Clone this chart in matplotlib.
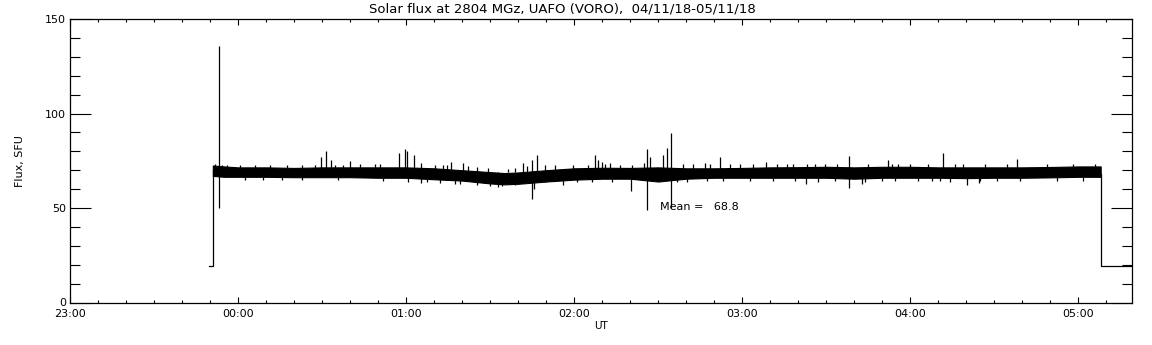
import matplotlib
matplotlib.use("Agg")
import matplotlib.pyplot as plt
from matplotlib.ticker import MultipleLocator, FuncFormatter

# time axis: minutes after 23:00 UT
x_max = 379

# noise band envelope of the flux record (SFU)
band_min = [51, 55, 60, 70, 80, 90, 100, 110, 120, 130, 140, 150, 155, 160,
            170, 180, 190, 200, 210, 220, 230, 240, 250, 260, 270, 280, 290,
            300, 310, 320, 330, 340, 350, 360, 368]
band_hi = [72.5, 72, 71.5, 71.5, 71.2, 71.5, 71.5, 71.5, 71.5, 71, 70, 69, 68.5, 68.8,
           70, 71, 71.3, 71.2, 71.5, 71, 71, 71.2, 71.5, 71.6, 71.8, 71.5, 71.8,
           71.8, 71.5, 71.5, 71.5, 71.5, 71.7, 72, 72]
band_lo = [67, 66.5, 66.5, 66.5, 66.3, 66.3, 66.3, 66, 66, 65.2, 64.5, 63, 62.5, 62.8,
           64, 65, 65.5, 65.5, 64, 65.5, 66, 66, 66, 66, 66, 65.5, 66,
           66, 66, 65.8, 66, 66, 66.2, 66.5, 66.5]

# bursts / spikes sticking out of the band
spike_min = [53.2, 89.6, 91.4, 93.2, 100.0, 117.5, 119.6, 120.4, 122.9, 125.4,
             136.1, 140.4, 161.8, 165.0, 166.8, 187.5, 188.6, 190.0, 192.9, 205.0,
             206.1, 207.1, 211.8, 213.2, 214.6, 226.8, 232.1, 248.6, 278.2, 292.1,
             311.8, 338.2,
             125.4, 137.5, 152.9, 165.0, 165.7, 176.1, 200.4, 206.1, 214.6, 262.9,
             278.2, 282.9, 320.1, 324.6]
spike_lo = [50, 69, 69, 69, 69, 69, 69, 69, 69, 69,
            69, 69, 69, 69, 69, 69, 69, 69, 69, 69,
            69, 69, 69, 69, 69, 69, 69, 69, 69, 69,
            69, 69,
            63, 62.5, 61, 55, 60, 62, 59, 49, 50, 62.5,
            60.4, 62.5, 62, 63]
spike_hi = [135.5, 77, 80, 75.3, 74.7, 79, 81, 80, 78, 73.7,
            74.2, 73.7, 73.7, 75.3, 78, 78, 75.3, 74.2, 74, 74,
            81, 77, 78, 81.6, 89.5, 73.7, 77, 74.2, 77.4, 75.3,
            79, 75.8,
            69, 69, 69, 69, 69, 69, 69, 69, 69, 69,
            69, 69, 69, 69]

# small ragged edges of the band
fringe_top_min = [51.8, 54.3, 56.1, 60.7, 66.1, 71.4, 77.5, 82.8, 87.5, 94.6, 97.5,
                  103.5, 108.9, 110.7, 130.3, 133.2, 134.6, 142.1, 145.3, 149.2,
                  156.4, 158.9, 163.2, 169.6, 173.1, 179.6, 184.9, 191, 196.4, 200.6,
                  218.8, 222.4, 228.5, 235.6, 239.2, 243.8, 252.4, 256,
                  258.1, 263.1, 266, 269.5, 273.8, 284.9, 293.5, 295.6, 299.9, 306.3,
                  315.9, 318.8, 326.7, 334.5, 348.8, 358.1, 366]
fringe_top_val = [73.5, 73, 73, 73, 72.8, 73, 73, 73, 73, 73, 73,
                  73.5, 73.5, 73.5, 73, 73, 72.5, 72, 71.5, 71,
                  70.5, 71, 72, 72.5, 72.5, 73, 73, 73.5, 73, 73,
                  73.5, 73.5, 73.5, 73.5, 73.5, 73.5, 73.5, 73.5,
                  73.5, 73.5, 73.5, 73.5, 73.5, 73.5, 73.5, 73.5, 73.5, 73.5,
                  73.5, 73.5, 73.5, 73.5, 73.5, 73.5, 73.5]
fringe_bot_min = [62.5, 68.9, 75.7, 82.8, 95.7,
                  111.7, 120.7, 127.4, 132.1, 139.2, 145.3, 149.9,
                  154.3, 158.9, 169.6, 181, 186.4, 193.5,
                  216.7, 220.3, 227.4, 233.1, 242.8, 251,
                  258.8, 267, 273.1, 283.8, 289.9, 294.5, 302.7, 307.7,
                  310.6, 314.2, 324.9, 331, 339.2, 352.4, 361.6]
fringe_bot_val = [65, 65, 65, 64.8, 65,
                  64.5, 64, 63.5, 63, 62.5, 62, 61.5,
                  61.5, 62, 63.5, 64, 64, 64,
                  63.5, 64, 64.5, 64.5, 64.5, 64.5,
                  64.5, 64, 64.5, 64, 64.5, 64.5, 64.5, 64.5,
                  64.5, 64, 64.5, 64.5, 64.5, 64.5, 64.5]

# receiver off level before / after the session
trace_min_start = [49.6, 51.1, 51.1]
trace_val_start = [19.5, 19.5, 70]
trace_min_end = [368.2, 368.2, x_max]
trace_val_end = [68, 19.5, 19.5]

mean_flux = 68.8
hour_labels = ["23:00", "00:00", "01:00", "02:00", "03:00", "04:00", "05:00"]

fig = plt.figure(figsize=(11.52, 3.45), dpi=100)
ax = fig.add_axes([70 / 1152, 1 - 302.5 / 345, 1061.5 / 1152, 283.5 / 345])

ax.fill_between(band_min, band_lo, band_hi, color="black", lw=0.8)
ax.vlines(fringe_top_min, 69, fringe_top_val, color="black", lw=0.9)
ax.vlines(fringe_bot_min, fringe_bot_val, 68, color="black", lw=0.9)
ax.vlines(spike_min, spike_lo, spike_hi, color="black", lw=0.9)
ax.plot(trace_min_start, trace_val_start, color="black", lw=0.9)
ax.plot(trace_min_end, trace_val_end, color="black", lw=0.9)

ax.text(210.7, 50.5, "Mean =   %.1f" % mean_flux, fontsize=8, va="center", ha="left")

ax.set_xlim(0, x_max)
ax.set_ylim(0, 150)
ax.xaxis.set_major_locator(MultipleLocator(60))
ax.xaxis.set_minor_locator(MultipleLocator(10))
ax.xaxis.set_major_formatter(FuncFormatter(
    lambda v, p: hour_labels[int(round(v / 60))] if 0 <= round(v / 60) < len(hour_labels) else ""))
ax.yaxis.set_major_locator(MultipleLocator(50))
ax.yaxis.set_minor_locator(MultipleLocator(10))

ax.tick_params(axis="x", which="major", direction="in", length=4.3, width=0.8,
               top=True, bottom=True, labelsize=8, pad=5)
ax.tick_params(axis="x", which="minor", direction="in", length=2.2, width=0.8,
               top=True, bottom=True)
ax.tick_params(axis="y", which="major", direction="in", length=15, width=0.8,
               left=True, right=True, labelsize=8, pad=3)
ax.tick_params(axis="y", which="minor", direction="in", length=7.2, width=0.8,
               left=True, right=True)
for s in ax.spines.values():
    s.set_linewidth(0.9)

ax.set_xlabel("UT", fontsize=7.5, labelpad=1)
ax.set_ylabel("Flux, SFU", fontsize=8, labelpad=14)

fig.text(562.5 / 1152, 1 - 8.5 / 345, "Solar flux at 2804 MGz, UAFO (VORO),  04/11/18-05/11/18",
         fontsize=9.5, ha="center", va="center")

fig.savefig("out.png", dpi=100)
